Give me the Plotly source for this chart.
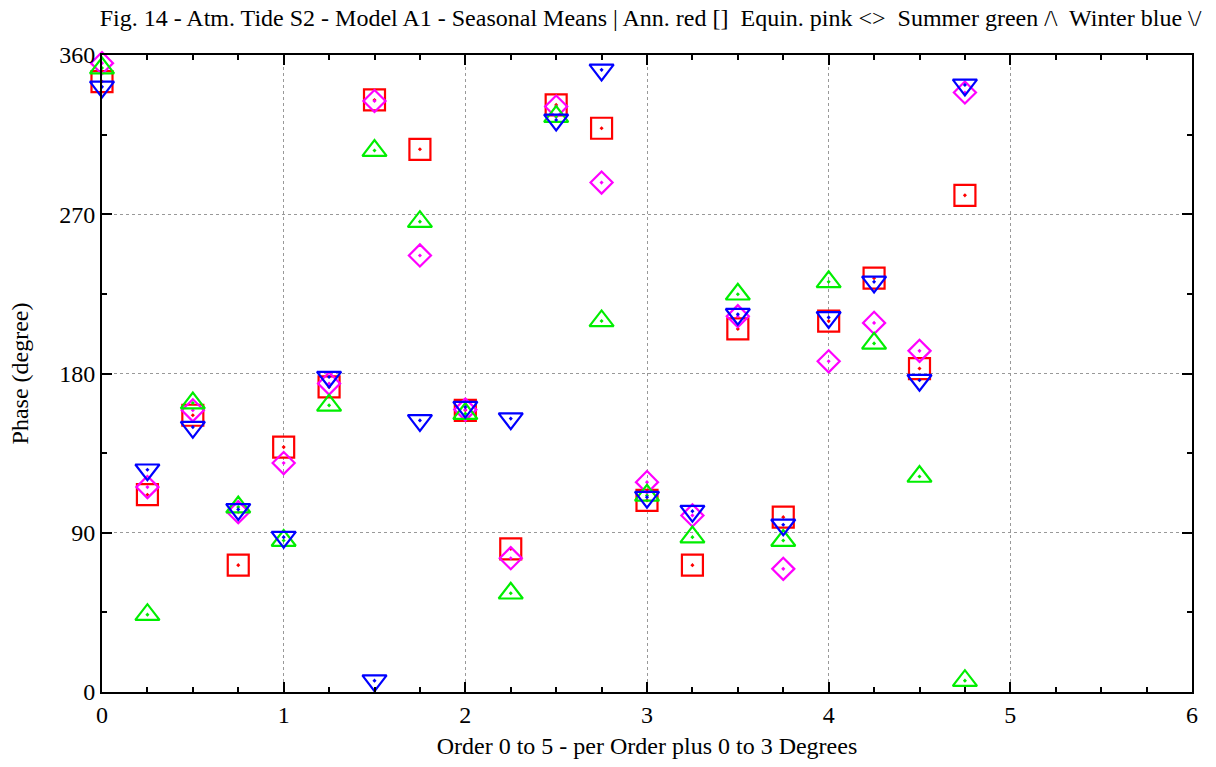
import plotly.graph_objects as go

x_pos = [0, 0.25, 0.5, 0.75, 1, 1.25, 1.5, 1.75, 2, 2.25, 2.5, 2.75,
         3, 3.25, 3.5, 3.75, 4, 4.25, 4.5, 4.75]

annual = [345, 111.5, 156.4, 71.7, 138.4, 172.4, 334.6, 306.7, 159.2, 80.9, 331.8, 318.6,
          108.3, 71.7, 205.2, 98.8, 209.6, 233.9, 182.8, 280.7]
equinox = [355.4, 115.8, 159.2, 101.6, 129.4, 174.3, 334.0, 246.7, 159.6, 75.6, 330.9, 287.9,
           118.6, 99.8, 212.4, 69.6, 186.9, 208.6, 192.8, 338.8]
summer = [352.6, 43.7, 163.3, 104.5, 85.6, 162.0, 306.0, 265.8, 157.3, 55.8, 325.2, 209.7,
          111.1, 87.5, 224.8, 85.6, 231.8, 197.0, 121.8, 6.4]
winter = [342.0, 125.6, 149.7, 103.2, 87.5, 178.0, 6.4, 153.5, 161.0, 154.5, 323.3, 351.6,
          110.1, 102.2, 213.5, 94.5, 211.7, 231.8, 176.2, 343.1]

x_ticks = [0, 1, 2, 3, 4, 5, 6]
y_ticks = [0, 90, 180, 270, 360]

series = [
    ("Ann.", annual, "#ff0000", "square-open-dot", 21),
    ("Equin.", equinox, "#ff00ff", "diamond-open-dot", 17),
    ("Summer", summer, "#00ee00", "triangle-up-open-dot", 21),
    ("Winter", winter, "#0000ff", "triangle-down-open-dot", 21),
]

fig = go.Figure()
for name, vals, col, sym, sz in series:
    fig.add_trace(go.Scatter(
        x=x_pos, y=vals, mode="markers", name=name, cliponaxis=False,
        marker=dict(symbol=sym, size=sz, color=col, line=dict(color=col, width=2.2)),
    ))

font_family = "Liberation Serif, Times New Roman, serif"
axis_common = dict(
    showline=True, linecolor="black", linewidth=2, mirror="allticks",
    ticks="inside", ticklen=10, tickwidth=2, tickcolor="black",
    showgrid=True, gridcolor="#999999", griddash="dot", gridwidth=1,
    zeroline=False,
    tickfont=dict(family=font_family, size=24, color="black"),
)

fig.update_layout(
    width=1216, height=767,
    margin=dict(l=102, r=24, t=55, b=75),
    paper_bgcolor="white", plot_bgcolor="white",
    showlegend=False,
    title=dict(
        text="Fig. 14 - Atm. Tide S2 - Model A1 - Seasonal Means | Ann. red []  Equin. pink <>  Summer green /\\  Winter blue \\/",
        x=0.535, xanchor="center", y=0.977, yanchor="middle",
        font=dict(family=font_family, size=24, color="black"),
    ),
    xaxis=dict(
        range=[0, 6], tickvals=x_ticks, ticktext=[str(v) for v in x_ticks],
        minor=dict(ticks="inside", dtick=0.25, ticklen=5, tickwidth=1.5, tickcolor="black", showgrid=False),
        title=dict(text="Order 0 to 5 - per Order plus 0 to 3 Degrees",
                   font=dict(family=font_family, size=24, color="black"), standoff=10),
        **axis_common,
    ),
    yaxis=dict(
        range=[0, 360], tickvals=y_ticks, ticktext=[str(v) for v in y_ticks],
        minor=dict(ticks="inside", dtick=45, ticklen=5, tickwidth=1.5, tickcolor="black", showgrid=False),
        title=dict(text="Phase (degree)",
                   font=dict(family=font_family, size=24, color="black"), standoff=24),
        **axis_common,
    ),
)

fig.write_html("out.html")
